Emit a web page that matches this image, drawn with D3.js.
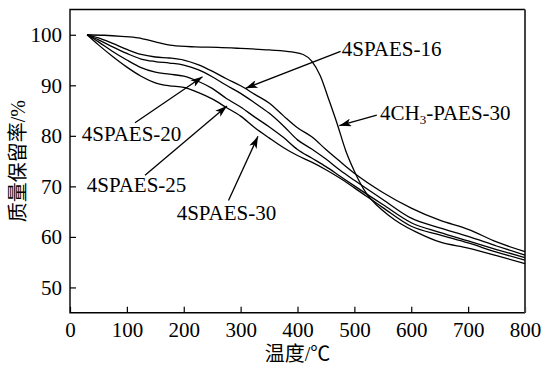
<!DOCTYPE html>
<html>
<head>
<meta charset="utf-8">
<script src="https://cdn.jsdelivr.net/npm/d3@7"></script>
<style>
  html, body { margin: 0; padding: 0; background: #fff; }
  svg { display: block; }
  .axis text { font-family: "Liberation Serif", "Times New Roman", serif; font-size: 21px; fill: #000; }
  .axis line { stroke: #000; stroke-width: 1.2px; }
  .axis path { display: none; }
  .curve { fill: none; stroke: #000; stroke-width: 1.3px; }
  .lbl { font-family: "Liberation Serif", "Times New Roman", serif; font-size: 21px; fill: #000; }
  .title { font-family: "Liberation Serif", "Noto Sans CJK SC", sans-serif; font-size: 20px; fill: #000; }
</style>
</head>
<body>
<div id="chartDiv"></div>
<script>
  'use strict';

  // temperatures (°C) shared by the four 4SPAES curves
  const TEMPS = [30, 50, 75, 100, 125, 150, 175, 200, 225, 250, 275, 300, 325, 350, 375,
                 400, 425, 450, 475, 500, 550, 600, 650, 700, 750, 800];

  const SPAES_16 = [100, 99.4, 98.3, 97.1, 96.1, 95.6, 95.4, 95.0, 94.1, 92.8, 91.3, 89.9, 88.2, 86.5, 84.0,
                    81.6, 79.8, 77.3, 74.9, 72.6, 68.8, 65.7, 63.3, 61.5, 59.0, 57.1];
  const SPAES_20 = [100, 99.0, 97.6, 96.3, 95.2, 94.7, 94.4, 94.0, 93.1, 91.7, 90.0, 88.4, 86.5, 84.5, 82.0,
                    79.2, 77.4, 75.4, 73.2, 71.2, 67.4, 63.7, 61.8, 60.1, 58.2, 56.4];
  const SPAES_25 = [100, 98.6, 96.7, 95.0, 93.5, 92.6, 92.2, 91.8, 90.8, 89.4, 87.4, 85.7, 83.7, 81.8, 79.7,
                    77.3, 75.6, 73.9, 72.0, 70.1, 66.4, 62.8, 60.9, 59.2, 57.5, 55.9];
  const SPAES_30 = [100, 98.0, 95.7, 93.6, 91.8, 90.5, 89.9, 89.6, 88.6, 87.3, 85.6, 83.9, 81.6, 79.6, 77.7,
                    76.1, 74.8, 73.3, 71.6, 69.7, 65.8, 62.1, 60.4, 58.8, 57.0, 55.4];

  // 4CH3-PAES-30 has its own sampling (steep drop near 450 °C)
  const CH3_TEMPS  = [30, 60, 90, 120, 150, 180, 220, 260, 300, 350, 390, 410, 425, 440, 455, 470, 485,
                      500, 520, 540, 560, 580, 610, 650, 700, 750, 800];
  const CH3_VALUES = [100, 99.9, 99.7, 99.4, 98.6, 97.9, 97.6, 97.5, 97.3, 97.0, 96.6, 96.1, 94.8, 91.9,
                      87.2, 82.3, 77.0, 73.0, 68.8, 66.2, 64.3, 62.7, 60.9, 59.0, 57.8, 56.3, 54.7];

  const X_TICKS = [0, 100, 200, 300, 400, 500, 600, 700, 800];
  const Y_TICKS = [50, 60, 70, 80, 90, 100];

  // annotation labels: [text, x(°C), y(%)] for the label's left baseline
  const LABEL_TEXT = ['4SPAES-16', '4CH3-PAES-30', '4SPAES-20', '4SPAES-25', '4SPAES-30'];
  const LABEL_X    = [478, 545, 20.6, 29.4, 187.6];
  const LABEL_Y    = [95.8, 83.1, 79.0, 68.9, 63.3];
  // arrows: tail -> head, in data units
  const ARROW_X0 = [475.8, 539.4, 114.3, 131.9, 278.7];
  const ARROW_Y0 = [96.7, 84.1, 82.6, 72.2, 67.2];
  const ARROW_X1 = [308.6, 473.5, 233.0, 276.0, 330.5];
  const ARROW_Y1 = [89.4, 82.0, 91.7, 85.9, 79.9];

  const W = 542, H = 365;
  const margin = { top: 9.5, right: 17, bottom: 52.3, left: 70 };
  const width = W - margin.left - margin.right;
  const height = H - margin.top - margin.bottom;

  const xScale = d3.scaleLinear().domain([0, 800]).range([0, width]);
  const yScale = d3.scaleLinear().domain([45, 105]).range([height, 0]);

  const svg = d3.select('#chartDiv').append('svg')
      .attr('width', W)
      .attr('height', H);

  const defs = svg.append('defs');
  defs.append('marker')
      .attr('id', 'arrowHead')
      .attr('viewBox', '0 0 12 8')
      .attr('refX', 12)
      .attr('refY', 4)
      .attr('markerUnits', 'userSpaceOnUse')
      .attr('markerWidth', 13)
      .attr('markerHeight', 8)
      .attr('orient', 'auto')
    .append('path')
      .attr('d', 'M0,0 L12,4 L0,8 L3,4 Z')
      .attr('fill', '#000');

  const g = svg.append('g')
      .attr('transform', `translate(${margin.left},${margin.top})`);

  // axes with inward ticks
  g.append('g')
      .attr('class', 'axis')
      .attr('transform', `translate(0,${height})`)
      .call(d3.axisBottom(xScale).tickValues(X_TICKS).tickSize(-6).tickPadding(9).tickFormat(d3.format('d')));

  g.append('g')
      .attr('class', 'axis')
      .call(d3.axisLeft(yScale).tickValues(Y_TICKS).tickSize(-6).tickPadding(8).tickFormat(d3.format('d')));

  // frame
  g.append('path')
      .attr('d', `M${width},0 H0 V${height} H${width}`)
      .attr('fill', 'none')
      .attr('stroke', '#000')
      .attr('stroke-width', 1.4);
  g.append('line')
      .attr('x1', width).attr('x2', width)
      .attr('y1', 0).attr('y2', height)
      .attr('stroke', '#444')
      .attr('stroke-width', 2);

  const line = d3.line()
      .x(d => xScale(d[0]))
      .y(d => yScale(d[1]))
      .curve(d3.curveMonotoneX);

  const series = [
      d3.zip(TEMPS, SPAES_16),
      d3.zip(TEMPS, SPAES_20),
      d3.zip(TEMPS, SPAES_25),
      d3.zip(TEMPS, SPAES_30),
      d3.zip(CH3_TEMPS, CH3_VALUES)
  ];

  g.selectAll('path.curve')
      .data(series)
      .join('path')
      .attr('class', 'curve')
      .attr('d', line);

  // arrows
  g.selectAll('line.arrow')
      .data(d3.range(ARROW_X0.length))
      .join('line')
      .attr('class', 'arrow')
      .attr('x1', i => xScale(ARROW_X0[i]))
      .attr('y1', i => yScale(ARROW_Y0[i]))
      .attr('x2', i => xScale(ARROW_X1[i]))
      .attr('y2', i => yScale(ARROW_Y1[i]))
      .attr('stroke', '#000')
      .attr('stroke-width', 1.3)
      .attr('marker-end', 'url(#arrowHead)');

  // labels
  LABEL_TEXT.forEach((t, i) => {
      const txt = g.append('text')
          .attr('class', 'lbl')
          .attr('x', xScale(LABEL_X[i]))
          .attr('y', yScale(LABEL_Y[i]));
      if(t.indexOf('CH3') >= 0){
          const parts = t.split('3');
          txt.append('tspan').text(parts[0]);
          txt.append('tspan').attr('dy', 4).style('font-size', '13px').text('3');
          txt.append('tspan').attr('dy', -4).text(parts.slice(1).join('3'));
      } else {
          txt.text(t);
      }
  });

  // axis titles
  svg.append('text')
      .attr('class', 'title')
      .attr('x', margin.left + width / 2)
      .attr('y', 361)
      .attr('text-anchor', 'middle')
      .text('温度/℃');

  svg.append('text')
      .attr('class', 'title')
      .attr('transform', `translate(25,${margin.top + height / 2}) rotate(-90)`)
      .attr('text-anchor', 'middle')
      .text('质量保留率/%');
</script>
</body>
</html>
